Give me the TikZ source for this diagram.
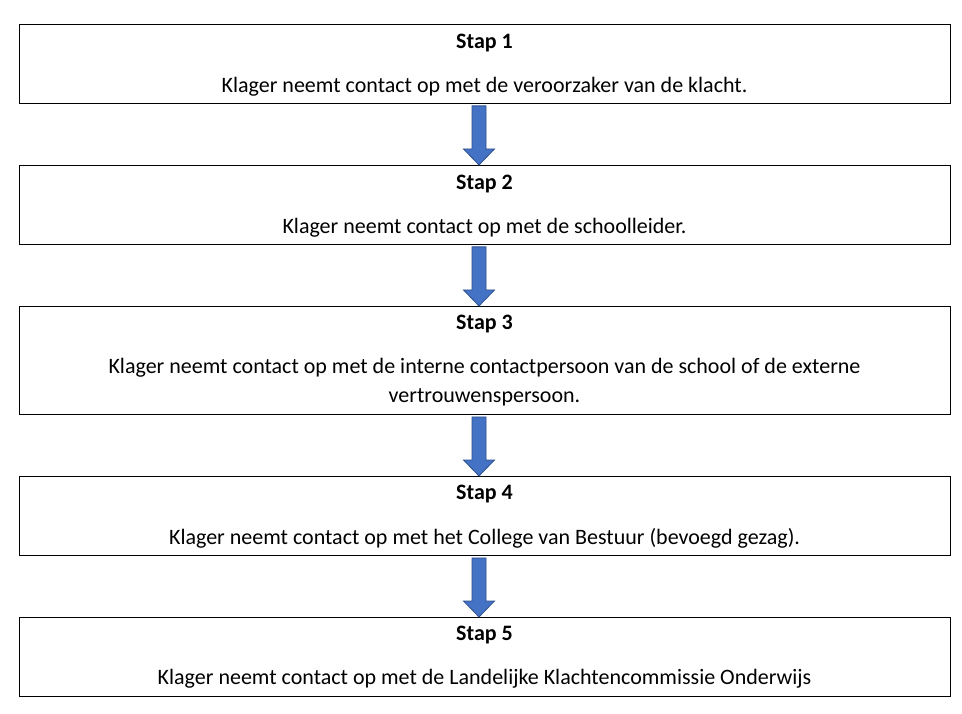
\documentclass[tikz,border=0pt]{standalone}
\usepackage{fontspec}
\setmainfont{Carlito}
\usetikzlibrary{calc}
\definecolor{arrowblue}{HTML}{4472C4}
\definecolor{arrowedge}{HTML}{2F528F}
\begin{document}
\begin{tikzpicture}[x=1pt,y=-1pt,
  stepbox/.style={draw=black, line width=0.9pt, rectangle, minimum width=931pt, inner sep=0pt, anchor=north west},
  steptitle/.style={font=\fontsize{22}{29}\selectfont\bfseries, inner sep=0pt, anchor=center},
  stepbody/.style={font=\fontsize{22}{29}\selectfont, align=center, inner sep=0pt, anchor=center},
  blockdown/.style={fill=arrowblue, draw=arrowedge, line width=0.8pt, line join=miter}]
\useasboundingbox (0,0) rectangle (962,714);
\fill[white] (0,0) rectangle (962,714);
% boxes
\node[stepbox, minimum height=79pt]  (b1) at (19,24) {};
\node[stepbox, minimum height=79pt]  (b2) at (19,165) {};
\node[stepbox, minimum height=108pt] (b3) at (19,306) {};
\node[stepbox, minimum height=79pt]  (b4) at (19,476) {};
\node[stepbox, minimum height=79pt]  (b5) at (19,617) {};
% texts
\node[steptitle] (t1) at (484.5,43) {Stap 1};
\node[stepbody]  (x1) at (484.5,87) {Klager neemt contact op met de veroorzaker van de klacht.};
\node[steptitle] (t2) at (484.5,184) {Stap 2};
\node[stepbody]  (x2) at (484.5,228) {Klager neemt contact op met de schoolleider.};
\node[steptitle] (t3) at (484.5,324) {Stap 3};
\node[stepbody]  (x3) at (484.5,382) {Klager neemt contact op met de interne contactpersoon van de school of de externe\\vertrouwenspersoon.};
\node[steptitle] (t4) at (484.5,494) {Stap 4};
\node[stepbody]  (x4) at (484.5,538) {Klager neemt contact op met het College van Bestuur (bevoegd gezag).};
\node[steptitle] (t5) at (484.5,635) {Stap 5};
\node[stepbody]  (x5) at (484.5,679) {Klager neemt contact op met de Landelijke Klachtencommissie Onderwijs};
% arrows
\foreach \a/\b in {b1/b2,b2/b3,b3/b4,b4/b5}{
  \draw[blockdown] let \p1=(\a.south), \p2=(\b.north) in
    (472pt,\y1-2pt) -- (486pt,\y1-2pt) -- (486pt,\y2+16pt) -- (494.5pt,\y2+16pt)
    -- (479pt,\y2) -- (463.5pt,\y2+16pt) -- (472pt,\y2+16pt) -- cycle;
}
\end{tikzpicture}
\end{document}
